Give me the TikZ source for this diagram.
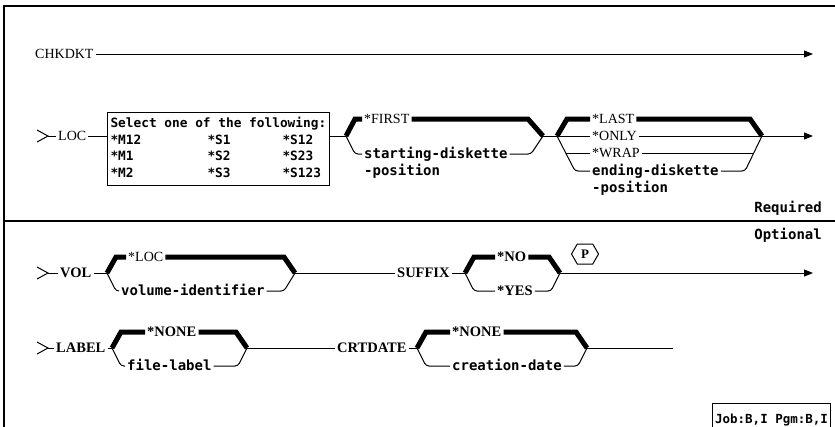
\documentclass[tikz,border=0pt]{standalone}
\usepackage{fontspec}
\setmainfont{Liberation Serif}
\newfontfamily\gothic{DejaVu Sans Mono}
\usetikzlibrary{arrows.meta,positioning,shapes.symbols}

\tikzset{
  rail/.style={line width=1pt},
  defrail/.style={line width=5pt, line join=miter},
  railend/.style={-{Triangle[length=9pt,width=7pt]}},
  kw/.style={font=\fontsize{14}{16}\selectfont, inner sep=2pt, text height=8pt, text depth=0pt},
  kwb/.style={kw, font=\bfseries\fontsize{14.5}{16}\selectfont},
  argtext/.style={font=\gothic\bfseries\fontsize{14}{16}\selectfont, inner sep=2pt, text height=8pt, text depth=0pt}
}

\begin{document}
\begin{tikzpicture}[x=1pt, y=-1pt]
  \useasboundingbox (0,0) rectangle (835,426);
  % frame
  \draw[line width=1.5pt] (4,440) -- (4,6) -- (845,6);
  \draw[line width=1.5pt] (4,221) -- (845,221);

  % CHKDKT
  \node[kw, anchor=west] (chk) at (33,54) {CHKDKT};
  \coordinate (chkend) at (813,54);
  \draw[rail, railend] (chk) -- (chkend);

  % LOC
  \coordinate (locin) at (48,136);
  \draw[rail] (37,130) -- (locin) -- (37,142);
  \node[kw, anchor=west] (loc) at (56,136) {LOC};
  \draw[rail] (locin) -- (loc);
  \node[draw, rail, anchor=north west, inner sep=3pt, minimum width=221pt,
        font=\gothic\bfseries\fontsize{12.8}{16.8}\selectfont] (locbox) at (107,112) {%
    \begin{tabular}{@{}p{97pt}@{}p{75pt}@{}l@{}}
      \multicolumn{3}{@{}l@{}}{Select one of the following:}\\
      {*}M12 & *S1 & *S12\\
      {*}M1 & *S2 & *S23\\
      {*}M2 & *S3 & *S123
    \end{tabular}};
  \draw[rail] (loc.east) -- (loc.east -| locbox.west);
  \coordinate (fb) at (346,136);
  \draw[rail] (locbox.east |- fb) -- (fb);
  \node[kw, anchor=west] (first) at (362,119) {*FIRST};
  \coordinate (fe) at (543,136);
  \draw[defrail] (fb) -- (355,119) -- (first.west);
  \draw[defrail] (first.east) -- (528,119) -- (fe);
  \node[argtext, anchor=west] (sdk) at (362,154) {starting-diskette};
  \node[argtext, anchor=west] (sdkpos) at ([yshift=-17pt]sdk.west) {-position};
  \draw[rail, rounded corners=3pt] (fb) -- (355,154) -- (sdk.west);
  \draw[rail, rounded corners=3pt] (sdk.east) -- (531,154) -- (fe);
  \coordinate (sb) at (557,136);
  \draw[rail] (fe) -- (sb);
  \node[kw, anchor=west] (last) at (590,119) {*LAST};
  \coordinate (se) at (762,136);
  \draw[defrail] (sb) -- (567,119) -- (last.west);
  \draw[defrail] (last.east) -- (750,119) -- (se);
  \node[kw, anchor=west] (only) at (590,136) {*ONLY};
  \draw[rail] (sb) -- (only);
  \draw[rail] (only) -- (se);
  \node[kw, anchor=west] (wrap) at (590,153) {*WRAP};
  \draw[rail] (565.7,153) -- (wrap);
  \draw[rail] (wrap) -- (753.7,153);
  \node[argtext, anchor=west] (edk) at (590,171) {ending-diskette};
  \node[argtext, anchor=west] (edkpos) at ([yshift=-17pt]edk.west) {-position};
  \draw[rail, rounded corners=3pt] (sb) -- (575,171) -- (edk.west);
  \draw[rail, rounded corners=3pt] (edk.east) -- (745,171) -- (se);
  \coordinate (locend) at (813,136);
  \draw[rail, railend] (se) -- (locend);

  \node[argtext, anchor=east] (req) at (824,208) {Required};
  \node[argtext, anchor=east] (opt) at (824,235) {Optional};

  % VOL
  \coordinate (volin) at (48,273);
  \draw[rail] (37,267) -- (volin) -- (37,279);
  \node[kwb, anchor=west] (vol) at (58,273) {VOL};
  \coordinate (vb) at (107,273);
  \draw[rail] (volin) -- (vol);
  \draw[rail] (vol) -- (vb);
  \node[kw, anchor=west] (vloc) at (126,257) {*LOC};
  \coordinate (ve) at (295,273);
  \draw[defrail] (vb) -- (116,257) -- (vloc.west);
  \draw[defrail] (vloc.east) -- (284,257) -- (ve);
  \node[argtext, anchor=west] (volid) at (119,291) {volume-identifier};
  \draw[rail, rounded corners=3pt] (vb) -- (116,291) -- (volid.west);
  \draw[rail, rounded corners=3pt] (volid.east) -- (284,291) -- (ve);
  \node[kwb, anchor=west] (suffix) at (395,273) {SUFFIX};
  \draw[rail] (ve) -- (suffix);
  \coordinate (nb) at (465,273);
  \draw[rail] (suffix) -- (nb);
  \node[kwb, anchor=west] (no) at (495,257) {*NO};
  \coordinate (ne) at (560,273);
  \draw[defrail] (nb) -- (474,257) -- (no.west);
  \draw[defrail] (no.east) -- (549,257) -- (ne);
  \node[kwb, anchor=west] (yes) at (495,291) {*YES};
  \draw[rail, rounded corners=3pt] (nb) -- (474,291) -- (yes.west);
  \draw[rail, rounded corners=3pt] (yes.east) -- (551,291) -- (ne);
  \node[draw, rail, signal, signal to=west and east, signal pointer angle=120,
        minimum width=27pt, minimum height=20pt, inner sep=1pt,
        font=\bfseries\fontsize{13}{15}\selectfont] (prompt) at (585,254) {P};
  \coordinate (volend) at (813,273);
  \draw[rail, railend] (ne) -- (volend);

  % LABEL
  \coordinate (lblin) at (48,348);
  \draw[rail] (37,342) -- (lblin) -- (37,354);
  \node[kwb, anchor=west] (lbl) at (54,348) {LABEL};
  \coordinate (lb) at (112,348);
  \draw[rail] (lblin) -- (lbl);
  \draw[rail] (lbl) -- (lb);
  \node[kwb, anchor=west] (lnone) at (145,332) {*NONE};
  \coordinate (le) at (247,348);
  \draw[defrail] (lb) -- (121,332) -- (lnone.west);
  \draw[defrail] (lnone.east) -- (236,332) -- (le);
  \node[argtext, anchor=west] (flbl) at (125,366) {file-label};
  \draw[rail, rounded corners=3pt] (lb) -- (121,366) -- (flbl.west);
  \draw[rail, rounded corners=3pt] (flbl.east) -- (238,366) -- (le);
  \node[kwb, anchor=west] (crt) at (335,348) {CRTDATE};
  \draw[rail] (le) -- (crt);
  \coordinate (cb) at (417,348);
  \draw[rail] (crt) -- (cb);
  \node[kwb, anchor=west] (cnone) at (450,332) {*NONE};
  \coordinate (ce) at (587,348);
  \draw[defrail] (cb) -- (426,332) -- (cnone.west);
  \draw[defrail] (cnone.east) -- (576,332) -- (ce);
  \node[argtext, anchor=west] (cdate) at (450,366) {creation-date};
  \draw[rail, rounded corners=3pt] (cb) -- (426,366) -- (cdate.west);
  \draw[rail, rounded corners=3pt] (cdate.east) -- (578,366) -- (ce);
  \coordinate (lblend) at (673,348);
  \draw[rail] (ce) -- (lblend);

  \node[argtext, draw, line width=1.2pt, anchor=north west, inner sep=2.5pt,
        minimum height=30pt, text height=9pt, align=left,
        font=\gothic\bfseries\fontsize{12.5}{14}\selectfont] (job) at (712,403) {Job:B,I Pgm:B,I};
\end{tikzpicture}
\end{document}
